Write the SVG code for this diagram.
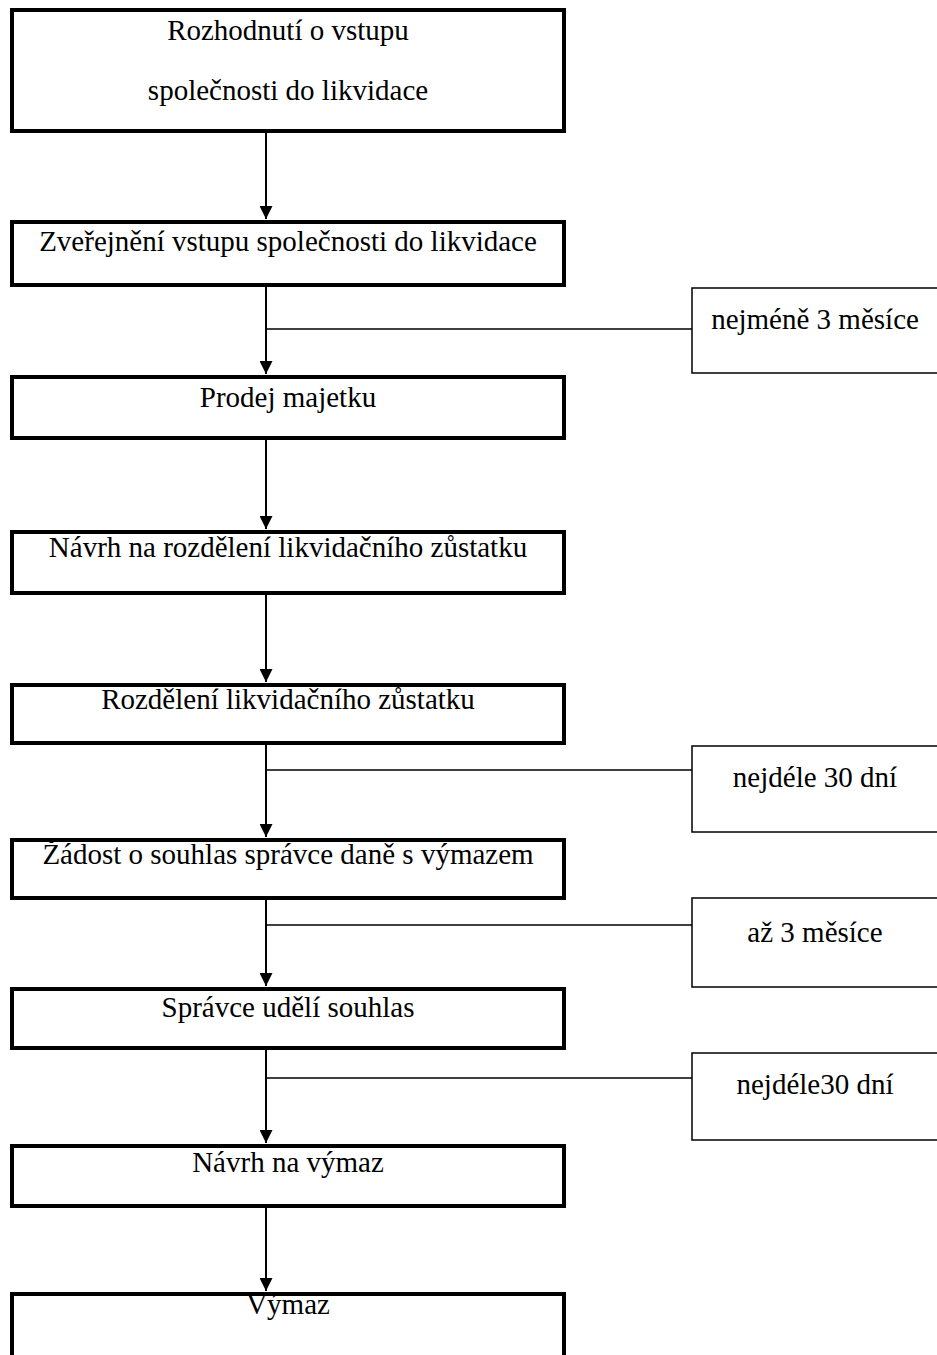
<svg xmlns="http://www.w3.org/2000/svg" width="937" height="1355" viewBox="0 0 937 1355">
<style>
.box{fill:#fff;stroke:#000;stroke-width:4}
.side{fill:#fff;stroke:#000;stroke-width:1.5}
.t{font-family:'Liberation Serif','Times New Roman',serif;font-size:29px;fill:#000;text-anchor:middle}
.arr{stroke:#000;stroke-width:2;fill:none;marker-end:url(#ah)}
.ln{stroke:#000;stroke-width:1.5;fill:none}
</style>
<defs>
<marker id="ah" markerWidth="14" markerHeight="13" refX="14" refY="7" orient="auto" markerUnits="userSpaceOnUse" viewBox="0 0 14 14">
<path d="M0,0 L14,7 L0,14 Z" fill="#000"/>
</marker>
</defs>
<g id="connectors">
<line class="arr" x1="266" y1="133" x2="266" y2="219"/>
<line class="arr" x1="266" y1="287" x2="266" y2="374"/>
<line class="ln" x1="266" y1="329" x2="692" y2="329"/>
<line class="arr" x1="266" y1="440" x2="266" y2="529"/>
<line class="arr" x1="266" y1="595" x2="266" y2="682"/>
<line class="arr" x1="266" y1="745" x2="266" y2="837"/>
<line class="ln" x1="266" y1="770" x2="692" y2="770"/>
<line class="arr" x1="266" y1="900" x2="266" y2="986"/>
<line class="ln" x1="266" y1="925" x2="692" y2="925"/>
<line class="arr" x1="266" y1="1050" x2="266" y2="1143"/>
<line class="ln" x1="266" y1="1078" x2="692" y2="1078"/>
<line class="arr" x1="266" y1="1208" x2="266" y2="1291"/>
</g>
<g id="n1"><rect class="box" x="12" y="10" width="552" height="121"/>
<text class="t" x="288" y="40">Rozhodnutí o vstupu</text>
<text class="t" x="288" y="100">společnosti do likvidace</text></g>
<g id="n2"><rect class="box" x="12" y="222" width="552" height="63"/>
<text class="t" x="288" y="251">Zveřejnění vstupu společnosti do likvidace</text></g>
<g id="s1"><rect class="side" x="692" y="288" width="250" height="85"/>
<text class="t" x="815" y="329">nejméně 3 měsíce</text></g>
<g id="n3"><rect class="box" x="12" y="377" width="552" height="61"/>
<text class="t" x="288" y="407">Prodej majetku</text></g>
<g id="n4"><rect class="box" x="12" y="532" width="552" height="61"/>
<text class="t" x="288" y="557">Návrh na rozdělení likvidačního zůstatku</text></g>
<g id="n5"><rect class="box" x="12" y="685" width="552" height="58"/>
<text class="t" x="288" y="709">Rozdělení likvidačního zůstatku</text></g>
<g id="s2"><rect class="side" x="692" y="746" width="250" height="86"/>
<text class="t" x="815" y="787">nejdéle 30 dní</text></g>
<g id="n6"><rect class="box" x="12" y="840" width="552" height="58"/>
<text class="t" x="288" y="864">Žádost o souhlas správce daně s výmazem</text></g>
<g id="s3"><rect class="side" x="692" y="898" width="250" height="89"/>
<text class="t" x="815" y="942">až 3 měsíce</text></g>
<g id="n7"><rect class="box" x="12" y="989" width="552" height="59"/>
<text class="t" x="288" y="1017">Správce udělí souhlas</text></g>
<g id="s4"><rect class="side" x="692" y="1053" width="250" height="87"/>
<text class="t" x="815" y="1094">nejdéle30 dní</text></g>
<g id="n8"><rect class="box" x="12" y="1146" width="552" height="60"/>
<text class="t" x="288" y="1172">Návrh na výmaz</text></g>
<g id="n9"><rect class="box" x="12" y="1294" width="552" height="80"/>
<text class="t" x="288" y="1314">Výmaz</text></g>
</svg>
